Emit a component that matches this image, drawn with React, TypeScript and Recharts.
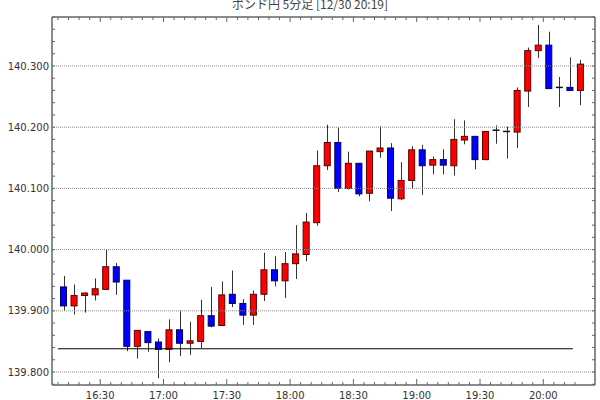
import React from 'react';
import { ComposedChart, Bar, Line, XAxis, YAxis, ReferenceLine } from 'recharts';

const TITLE = 'ポンド円 5分足 [12/30 20:19]';
const START_HOUR = 16;
const START_MINUTE = 10;

const OPEN = [
  139.939, 139.908, 139.925, 139.926, 139.935, 139.972, 139.950, 139.842, 139.866, 139.849,
  139.837, 139.869, 139.847, 139.850, 139.892, 139.876, 139.927, 139.912, 139.893, 139.927,
  139.967, 139.949, 139.977, 139.992, 140.044, 140.137, 140.175, 140.100, 140.141, 140.092,
  140.160, 140.166, 140.083, 140.113, 140.163, 140.138, 140.147, 140.137, 140.179, 140.185,
  140.147, 140.195, 140.193, 140.192, 140.259, 140.325, 140.334, 140.265, 140.265, 140.260,
];
const HIGH = [
  139.957, 139.943, 139.930, 139.953, 140.000, 139.978, 139.950, 139.868, 139.866, 139.855,
  139.886, 139.901, 139.882, 139.918, 139.939, 139.948, 139.966, 139.919, 139.933, 139.995,
  139.989, 139.996, 140.040, 140.060, 140.162, 140.204, 140.200, 140.160, 140.141, 140.161,
  140.202, 140.174, 140.143, 140.169, 140.171, 140.152, 140.164, 140.213, 140.211, 140.185,
  140.194, 140.203, 140.201, 140.265, 140.330, 140.367, 140.356, 140.282, 140.314, 140.310,
];
const LOW = [
  139.900, 139.894, 139.897, 139.917, 139.934, 139.926, 139.834, 139.822, 139.833, 139.790,
  139.816, 139.826, 139.828, 139.839, 139.873, 139.876, 139.906, 139.877, 139.877, 139.916,
  139.940, 139.921, 139.952, 139.981, 140.039, 140.130, 140.094, 140.098, 140.087, 140.079,
  140.150, 140.063, 140.081, 140.100, 140.089, 140.123, 140.123, 140.121, 140.172, 140.131,
  140.146, 140.173, 140.149, 140.166, 140.233, 140.313, 140.263, 140.233, 140.260, 140.236,
];
const CLOSE = [
  139.908, 139.925, 139.929, 139.936, 139.972, 139.947, 139.842, 139.868, 139.848, 139.837,
  139.869, 139.847, 139.851, 139.892, 139.875, 139.926, 139.912, 139.893, 139.927, 139.967,
  139.949, 139.977, 139.993, 140.045, 140.137, 140.175, 140.100, 140.141, 140.091, 140.161,
  140.166, 140.084, 140.113, 140.163, 140.137, 140.147, 140.138, 140.180, 140.185, 140.147,
  140.193, 140.195, 140.193, 140.260, 140.325, 140.334, 140.263, 140.265, 140.260, 140.303,
];

const PRICE_LABELS = [139.8, 139.9, 140.0, 140.1, 140.2, 140.3];
const TIME_LABELS = ['16:30', '17:00', '17:30', '18:00', '18:30', '19:00', '19:30', '20:00'];
const BASE_LINE = 139.838;
const BASE_LINE_FROM = 0;
const BASE_LINE_TO = 244;

const SLOT_MINUTES = 5;
const MINUTE_TICKS = Array.from({ length: 50 }, (_, i) => i * SLOT_MINUTES);
const PRICE_TICKS = Array.from({ length: 31 }, (_, i) => Math.round((139.78 + i * 0.02) * 1000) / 1000);

const X_DOMAIN: [number, number] = [-2.84, 254.5];
const Y_DOMAIN: [number, number] = [139.7788, 140.38];

const fmtTime = (m: number) => {
  const t = START_HOUR * 60 + START_MINUTE + m;
  return `${Math.floor(t / 60)}:${String(t % 60).padStart(2, '0')}`;
};

const data = OPEN.map((o, i) => ({
  slot: i,
  t: i * SLOT_MINUTES + SLOT_MINUTES / 2,
  open: o,
  high: HIGH[i],
  low: LOW[i],
  close: CLOSE[i],
  range: [LOW[i], HIGH[i]],
}));

const FONT = 'DejaVu Sans, sans-serif';
const AXIS_COLOR = '#666';

const Candle = (props: any) => {
  const { x, y, width, height, payload } = props;
  if (!payload) return null;
  const { open, close, high, low } = payload;
  const top = Math.min(y, y + height);
  const h = Math.abs(height);
  const ppu = h / (high - low);
  const yOf = (v: number) => top + (high - v) * ppu;
  const cx = Math.round(x + width / 2) + 0.5;
  const up = close > open;
  const flat = Math.abs(close - open) < 1e-9;
  const bTop = yOf(Math.max(open, close));
  const bBot = yOf(Math.min(open, close));
  return (
    <g>
      <line x1={cx} x2={cx} y1={top} y2={top + h} stroke="#333" strokeWidth={1} />
      {flat ? (
        <line x1={x} x2={x + width} y1={bTop} y2={bTop} stroke="#111" strokeWidth={1.5} />
      ) : (
        <rect
          x={x + 0.5}
          y={bTop}
          width={width - 1}
          height={Math.max(bBot - bTop, 1)}
          fill={up ? '#ff0000' : '#0000ff'}
          stroke={up ? '#5a0000' : '#00005a'}
          strokeWidth={1}
        />
      )}
    </g>
  );
};

const isMajorTime = (m: number) => TIME_LABELS.includes(fmtTime(m));
const isMajorPrice = (v: number) => PRICE_LABELS.some((p) => Math.abs(p - v) < 1e-6);

const BottomTick = (props: any) => {
  const { x, y, payload } = props;
  const m = payload.value;
  const major = isMajorTime(m);
  return (
    <g>
      <line x1={x} x2={x} y1={y} y2={y - (major ? 6 : 3)} stroke={AXIS_COLOR} strokeWidth={1} />
      {major && (
        <text x={x} y={y + 14} textAnchor="middle" fontFamily={FONT} fontSize={10} fill="#333">
          {fmtTime(m)}
        </text>
      )}
    </g>
  );
};

const TopTick = (props: any) => {
  const { x, y, payload } = props;
  const major = isMajorTime(payload.value);
  return <line x1={x} x2={x} y1={y} y2={y + (major ? 5 : 3)} stroke={AXIS_COLOR} strokeWidth={1} />;
};

const LeftTick = (props: any) => {
  const { x, y, payload } = props;
  const v = payload.value;
  return (
    <g>
      <line x1={x} x2={x + 3} y1={y} y2={y} stroke={AXIS_COLOR} strokeWidth={1} />
      {isMajorPrice(v) && (
        <text x={x - 3} y={y + 3.6} textAnchor="end" fontFamily={FONT} fontSize={10} fill="#333">
          {v.toFixed(3)}
        </text>
      )}
    </g>
  );
};

const RightTick = (props: any) => {
  const { x, y } = props;
  return <line x1={x - 3} x2={x} y1={y} y2={y} stroke={AXIS_COLOR} strokeWidth={1} />;
};

const axisLine = { stroke: AXIS_COLOR, strokeWidth: 1.5 };

export default function App() {
  return (
    <div style={{ position: 'absolute', left: 0, top: 0, width: 600, height: 400, background: '#fff' }}>
      <ComposedChart width={600} height={400} data={data} margin={{ top: 16, right: 0, bottom: 0, left: 0 }}>
        <XAxis
          xAxisId="t"
          dataKey="t"
          type="number"
          domain={X_DOMAIN}
          allowDataOverflow
          ticks={MINUTE_TICKS}
          interval={0}
          tickSize={0}
          tickMargin={0}
          tickLine={false}
          height={15}
          axisLine={axisLine}
          tick={<BottomTick />}
        />
        <XAxis xAxisId="c" dataKey="slot" type="category" hide height={0} padding={{ left: 6, right: 9.5 }} />
        <XAxis
          xAxisId="tt"
          orientation="top"
          dataKey="t"
          type="number"
          domain={X_DOMAIN}
          allowDataOverflow
          ticks={MINUTE_TICKS}
          interval={0}
          tickSize={0}
          tickMargin={0}
          tickLine={false}
          height={1}
          axisLine={axisLine}
          tick={<TopTick />}
        />
        <YAxis
          yAxisId="p"
          type="number"
          domain={Y_DOMAIN}
          allowDataOverflow
          ticks={PRICE_TICKS}
          interval={0}
          tickSize={0}
          tickMargin={0}
          tickLine={false}
          width={52}
          axisLine={axisLine}
          tick={<LeftTick />}
        />
        <YAxis
          yAxisId="pr"
          orientation="right"
          type="number"
          domain={Y_DOMAIN}
          allowDataOverflow
          ticks={PRICE_TICKS}
          interval={0}
          tickSize={0}
          tickMargin={0}
          tickLine={false}
          width={5}
          axisLine={axisLine}
          tick={<RightTick />}
        />
        {PRICE_LABELS.map((v) => (
          <ReferenceLine key={v} xAxisId="t" yAxisId="p" y={v} stroke="#888" strokeDasharray="1 1" strokeWidth={1} />
        ))}
        <ReferenceLine
          xAxisId="t"
          yAxisId="p"
          segment={[{ x: BASE_LINE_FROM, y: BASE_LINE }, { x: BASE_LINE_TO, y: BASE_LINE }]}
          stroke="#000"
          strokeWidth={1}
        />
        <Bar xAxisId="c" yAxisId="p" dataKey="range" barSize={7} shape={<Candle />} isAnimationActive={false} />
        <Line xAxisId="t" yAxisId="pr" dataKey="close" stroke="none" dot={false} activeDot={false} isAnimationActive={false} />
        <Line xAxisId="tt" yAxisId="p" dataKey="close" stroke="none" dot={false} activeDot={false} isAnimationActive={false} />
      </ComposedChart>
      <svg width={600} height={20} style={{ position: 'absolute', left: 0, top: 0, pointerEvents: 'none' }}>
        <text x={310} y={8.5} textAnchor="middle" fontFamily="Noto Sans CJK JP, sans-serif" fontSize={12} fill="#444">
          {TITLE}
        </text>
      </svg>
    </div>
  );
}
